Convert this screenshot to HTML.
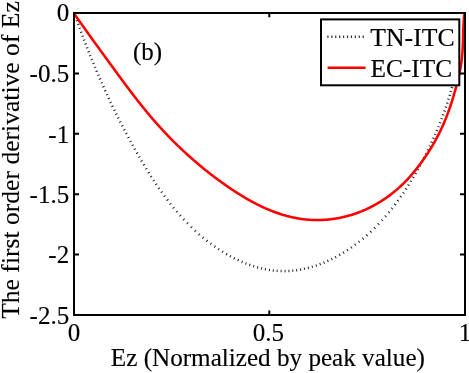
<!DOCTYPE html>
<html><head><meta charset="utf-8"><style>
html,body{margin:0;padding:0;background:#fff;width:469px;height:373px;overflow:hidden}
svg{display:block}
text{font-family:"Liberation Serif",serif;font-size:25px;fill:#000;stroke:#000;stroke-width:0.15px}
</style></head><body>
<svg width="469" height="373" viewBox="0 0 469 373">
<rect width="469" height="373" fill="#fff"/>
<path d="M74.07,12.34l0.33,0.94M75.41,16.16l0.33,0.94M76.82,20.13l0.34,0.94M78.18,23.92l0.34,0.94M79.61,27.86l0.34,0.94M81.06,31.80l0.35,0.94M82.52,35.71l0.35,0.94M84.00,39.62l0.36,0.93M85.49,43.51l0.36,0.93M86.99,47.39l0.36,0.93M88.51,51.26l0.37,0.93M90.04,55.12l0.37,0.93M91.66,59.12l0.38,0.93M93.23,62.96l0.38,0.92M94.87,66.94l0.39,0.92M96.48,70.75l0.39,0.92M98.16,74.71l0.39,0.92M99.80,78.50l0.40,0.92M101.52,82.43l0.40,0.91M103.26,86.36l0.41,0.91M105.02,90.27l0.41,0.91M106.80,94.17l0.42,0.91M108.61,98.07l0.42,0.91M110.43,101.95l0.43,0.90M112.27,105.82l0.43,0.90M114.22,109.84l0.44,0.90M116.11,113.69l0.44,0.90M118.02,117.54l0.45,0.89M120.03,121.53l0.45,0.89M121.99,125.36l0.46,0.89M124.05,129.33l0.46,0.89M126.06,133.14l0.47,0.88M128.17,137.09l0.47,0.88M130.31,141.04l0.48,0.88M132.39,144.83l0.49,0.87M134.59,148.76l0.49,0.87M136.81,152.68l0.50,0.87M139.06,156.60l0.50,0.87M141.33,160.51l0.51,0.86M143.65,164.40l0.51,0.86M145.99,168.28l0.52,0.85M148.47,172.28l0.53,0.85M150.89,176.12l0.54,0.84M153.44,180.07l0.55,0.84M155.95,183.85l0.56,0.83M158.70,187.89l0.57,0.82M161.40,191.74l0.58,0.81M164.26,195.69l0.59,0.80M167.17,199.60l0.61,0.80M170.15,203.45l0.62,0.78M173.30,207.39l0.63,0.77M176.52,211.26l0.65,0.76M179.94,215.19l0.67,0.75M183.43,219.05l0.68,0.73M187.13,222.95l0.70,0.72M191.06,226.88l0.72,0.70M194.95,230.59l0.74,0.68M198.83,234.08l0.75,0.66M202.66,237.36l0.77,0.64M206.59,240.54l0.79,0.62M210.48,243.52l0.80,0.59M214.45,246.39l0.82,0.57M218.22,248.96l0.84,0.55M222.21,251.52l0.85,0.53M226.11,253.87l0.87,0.50M229.92,256.02l0.88,0.48M233.78,258.06l0.89,0.45M237.68,259.97l0.91,0.42M241.64,261.75l0.92,0.39M245.47,263.34l0.93,0.36M249.34,264.80l0.94,0.33M253.24,266.12l0.95,0.30M257.17,267.30l0.96,0.27M261.12,268.33l0.97,0.23M264.93,269.18l0.98,0.19M268.92,269.91l0.99,0.15M272.77,270.45l0.99,0.11M276.62,270.84l1.00,0.07M280.65,271.07l1.00,0.03M284.53,271.13l1.00,-0.01M288.40,271.01l1.00,-0.06M292.28,270.73l0.99,-0.10M296.15,270.28l0.99,-0.14M300.18,269.65l0.98,-0.18M304.02,268.88l0.98,-0.22M307.85,267.97l0.97,-0.25M311.83,266.87l0.96,-0.29M315.77,265.63l0.95,-0.32M319.69,264.24l0.94,-0.35M323.56,262.72l0.92,-0.38M327.39,261.08l0.91,-0.41M331.33,259.24l0.90,-0.44M335.21,257.28l0.88,-0.47M339.19,255.12l0.87,-0.49M343.08,252.84l0.85,-0.52M347.05,250.36l0.84,-0.55M350.93,247.77l0.82,-0.57M354.87,244.97l0.80,-0.59M358.71,242.06l0.79,-0.62M362.61,238.92l0.77,-0.64M366.55,235.57l0.75,-0.66M370.38,232.09l0.73,-0.68M374.37,228.27l0.71,-0.70M378.14,224.45l0.69,-0.72M381.81,220.53l0.67,-0.74M385.27,216.65l0.65,-0.76M388.64,212.67l0.64,-0.77M391.71,208.88l0.62,-0.78M394.81,204.89l0.60,-0.80M397.63,201.12l0.59,-0.81M400.49,197.14l0.57,-0.82M403.17,193.26l0.56,-0.83M405.80,189.33l0.55,-0.84M408.26,185.51l0.53,-0.85M410.68,181.64l0.52,-0.85M413.03,177.75l0.51,-0.86M415.33,173.82l0.50,-0.87M417.58,169.87l0.49,-0.87M419.69,166.05l0.48,-0.88M421.84,162.06l0.47,-0.88M423.86,158.20l0.46,-0.89M425.83,154.34l0.45,-0.89M427.76,150.46l0.44,-0.90M429.64,146.57l0.43,-0.90M431.48,142.67l0.42,-0.91M433.27,138.76l0.41,-0.91M435.02,134.83l0.40,-0.92M436.72,130.89l0.39,-0.92M438.31,127.10l0.38,-0.92M439.92,123.14l0.37,-0.93M441.48,119.16l0.36,-0.93M442.94,115.32l0.35,-0.94M444.35,111.48l0.34,-0.94M445.72,107.62l0.33,-0.94M447.10,103.58l0.32,-0.95M448.38,99.69l0.31,-0.95M449.62,95.78l0.29,-0.96M450.76,92.02l0.28,-0.96M451.91,88.08l0.27,-0.96M453.01,84.13l0.26,-0.97M454.03,80.32l0.25,-0.97" fill="none" stroke="#222" stroke-width="2.5"/>
<path d="M73.80,13.10 L74.25,13.73 L74.69,14.37 L75.13,15.01 L75.57,15.64 L76.01,16.28 L76.46,16.91 L76.90,17.55 L77.34,18.18 L77.78,18.81 L78.23,19.44 L78.67,20.08 L79.11,20.71 L79.56,21.34 L80.00,21.97 L80.44,22.60 L80.89,23.23 L81.33,23.85 L81.78,24.48 L82.22,25.11 L82.66,25.74 L83.11,26.36 L83.55,26.99 L84.00,27.61 L84.44,28.24 L84.89,28.86 L85.33,29.49 L85.78,30.11 L86.22,30.74 L86.67,31.36 L87.11,31.98 L87.56,32.60 L88.01,33.23 L88.45,33.85 L88.90,34.47 L89.34,35.09 L89.79,35.71 L90.24,36.33 L90.68,36.95 L91.13,37.57 L91.58,38.19 L92.02,38.81 L92.47,39.43 L92.92,40.05 L93.36,40.67 L93.81,41.29 L94.26,41.91 L94.71,42.52 L95.15,43.14 L95.60,43.76 L96.05,44.38 L96.50,45.00 L96.95,45.61 L97.39,46.23 L97.84,46.85 L98.29,47.46 L98.74,48.08 L99.19,48.70 L99.64,49.32 L100.08,49.93 L100.53,50.55 L100.98,51.17 L101.43,51.78 L101.88,52.40 L102.33,53.02 L102.78,53.63 L103.23,54.25 L103.68,54.87 L104.13,55.48 L104.58,56.10 L105.02,56.72 L105.47,57.33 L105.92,57.95 L106.37,58.57 L106.82,59.18 L107.27,59.80 L107.72,60.42 L108.17,61.04 L108.62,61.65 L109.07,62.27 L109.52,62.89 L109.97,63.51 L110.42,64.12 L110.88,64.74 L111.33,65.36 L111.78,65.98 L112.23,66.60 L112.68,67.22 L113.13,67.84 L113.58,68.45 L114.03,69.07 L114.48,69.69 L114.94,70.31 L115.39,70.93 L115.84,71.55 L116.29,72.17 L116.74,72.79 L117.20,73.40 L117.65,74.02 L118.10,74.64 L118.56,75.26 L119.01,75.88 L119.46,76.50 L119.92,77.12 L120.37,77.73 L120.83,78.35 L121.28,78.97 L121.74,79.59 L122.20,80.20 L122.65,80.82 L123.11,81.44 L123.57,82.06 L124.02,82.67 L124.48,83.29 L124.94,83.90 L125.40,84.52 L125.86,85.14 L126.32,85.75 L126.78,86.37 L127.24,86.98 L127.70,87.60 L128.16,88.21 L128.62,88.82 L129.09,89.44 L129.55,90.05 L130.01,90.66 L130.48,91.28 L130.94,91.89 L131.41,92.50 L131.87,93.11 L132.34,93.72 L132.81,94.33 L133.27,94.94 L133.74,95.55 L134.21,96.16 L134.68,96.77 L135.15,97.37 L135.62,97.98 L136.09,98.59 L136.56,99.19 L137.04,99.80 L137.51,100.41 L137.98,101.01 L138.46,101.61 L138.93,102.22 L139.41,102.82 L139.89,103.42 L140.36,104.02 L140.84,104.62 L141.32,105.22 L141.80,105.82 L142.28,106.42 L142.76,107.02 L143.25,107.62 L143.73,108.21 L144.21,108.81 L144.70,109.41 L145.18,110.00 L145.67,110.59 L146.16,111.19 L146.65,111.78 L147.14,112.37 L147.63,112.96 L148.12,113.55 L148.61,114.14 L149.10,114.73 L149.59,115.31 L150.09,115.90 L150.59,116.49 L151.08,117.07 L151.58,117.65 L152.08,118.24 L152.58,118.82 L153.08,119.40 L153.58,119.98 L154.08,120.56 L154.59,121.14 L155.09,121.71 L155.60,122.29 L156.10,122.86 L156.61,123.44 L157.12,124.01 L157.63,124.58 L158.14,125.15 L158.65,125.73 L159.17,126.29 L159.68,126.86 L160.20,127.43 L160.71,128.00 L161.23,128.56 L161.75,129.13 L162.27,129.69 L162.79,130.25 L163.31,130.81 L163.83,131.37 L164.35,131.93 L164.88,132.49 L165.40,133.05 L165.93,133.60 L166.46,134.16 L166.98,134.71 L167.51,135.27 L168.04,135.82 L168.58,136.37 L169.11,136.92 L169.64,137.47 L170.18,138.02 L170.71,138.56 L171.25,139.11 L171.78,139.65 L172.32,140.20 L172.86,140.74 L173.40,141.28 L173.94,141.82 L174.49,142.36 L175.03,142.90 L175.58,143.44 L176.12,143.98 L176.67,144.51 L177.21,145.05 L177.76,145.58 L178.31,146.11 L178.86,146.65 L179.42,147.18 L179.97,147.70 L180.52,148.23 L181.08,148.76 L181.63,149.29 L182.19,149.81 L182.75,150.34 L183.31,150.86 L183.86,151.38 L184.43,151.90 L184.99,152.42 L185.55,152.94 L186.11,153.46 L186.68,153.97 L187.24,154.49 L187.81,155.00 L188.38,155.52 L188.95,156.03 L189.52,156.54 L190.09,157.05 L190.66,157.56 L191.23,158.06 L191.81,158.57 L192.38,159.08 L192.96,159.58 L193.53,160.08 L194.11,160.59 L194.69,161.09 L195.27,161.59 L195.85,162.08 L196.43,162.58 L197.02,163.08 L197.60,163.57 L198.18,164.07 L198.77,164.56 L199.36,165.05 L199.94,165.54 L200.53,166.03 L201.12,166.52 L201.71,167.01 L202.31,167.50 L202.90,167.98 L203.49,168.46 L204.09,168.95 L204.68,169.43 L205.28,169.91 L205.88,170.39 L206.48,170.87 L207.08,171.34 L207.68,171.82 L208.28,172.29 L208.88,172.77 L209.49,173.24 L210.09,173.71 L210.70,174.18 L211.30,174.65 L211.91,175.12 L212.52,175.58 L213.13,176.05 L213.74,176.51 L214.35,176.98 L214.96,177.44 L215.58,177.90 L216.19,178.36 L216.81,178.81 L217.42,179.27 L218.04,179.73 L218.66,180.18 L219.28,180.64 L219.90,181.09 L220.52,181.54 L221.15,181.99 L221.77,182.44 L222.39,182.88 L223.02,183.33 L223.65,183.77 L224.27,184.22 L224.90,184.66 L225.53,185.10 L226.16,185.54 L226.79,185.98 L227.43,186.42 L228.06,186.85 L228.69,187.29 L229.33,187.72 L229.97,188.15 L230.60,188.58 L231.24,189.01 L231.88,189.44 L232.52,189.87 L233.16,190.29 L233.81,190.72 L234.45,191.14 L235.09,191.56 L235.74,191.98 L236.39,192.39 L237.03,192.81 L237.68,193.22 L238.33,193.63 L238.98,194.04 L239.64,194.45 L240.29,194.86 L240.94,195.26 L241.60,195.66 L242.26,196.06 L242.92,196.46 L243.57,196.86 L244.23,197.25 L244.90,197.64 L245.56,198.03 L246.22,198.42 L246.89,198.81 L247.55,199.19 L248.22,199.57 L248.89,199.95 L249.56,200.32 L250.23,200.70 L250.90,201.07 L251.57,201.44 L252.25,201.80 L252.92,202.17 L253.60,202.53 L254.28,202.89 L254.96,203.24 L255.64,203.60 L256.32,203.95 L257.00,204.29 L257.69,204.64 L258.37,204.98 L259.06,205.32 L259.75,205.66 L260.44,205.99 L261.13,206.32 L261.82,206.65 L262.52,206.97 L263.21,207.29 L263.91,207.61 L264.61,207.93 L265.31,208.24 L266.01,208.55 L266.71,208.85 L267.41,209.15 L268.11,209.45 L268.82,209.75 L269.53,210.04 L270.24,210.33 L270.95,210.62 L271.66,210.90 L272.37,211.18 L273.08,211.45 L273.80,211.72 L274.52,211.99 L275.24,212.25 L275.96,212.51 L276.68,212.77 L277.40,213.02 L278.12,213.27 L278.85,213.52 L279.58,213.76 L280.31,214.00 L281.04,214.23 L281.77,214.46 L282.50,214.69 L283.23,214.91 L283.97,215.13 L284.70,215.34 L285.44,215.55 L286.18,215.75 L286.92,215.96 L287.66,216.15 L288.40,216.34 L289.15,216.53 L289.89,216.72 L290.64,216.89 L291.38,217.07 L292.13,217.24 L292.88,217.40 L293.63,217.56 L294.38,217.72 L295.13,217.87 L295.88,218.02 L296.63,218.16 L297.39,218.30 L298.14,218.43 L298.89,218.56 L299.65,218.68 L300.41,218.80 L301.16,218.91 L301.92,219.02 L302.68,219.12 L303.44,219.22 L304.20,219.31 L304.96,219.40 L305.72,219.48 L306.49,219.55 L307.25,219.62 L308.01,219.69 L308.77,219.75 L309.54,219.81 L310.30,219.85 L311.07,219.90 L311.83,219.94 L312.60,219.97 L313.36,220.00 L314.13,220.02 L314.90,220.04 L315.66,220.05 L316.43,220.06 L317.19,220.06 L317.96,220.06 L318.73,220.05 L319.50,220.04 L320.26,220.02 L321.03,220.00 L321.79,219.97 L322.56,219.93 L323.33,219.89 L324.09,219.85 L324.86,219.80 L325.62,219.75 L326.39,219.69 L327.15,219.62 L327.92,219.55 L328.68,219.48 L329.45,219.40 L330.21,219.31 L330.97,219.22 L331.73,219.13 L332.50,219.03 L333.26,218.92 L334.02,218.81 L334.78,218.70 L335.53,218.58 L336.29,218.45 L337.05,218.32 L337.81,218.19 L338.56,218.05 L339.32,217.90 L340.07,217.76 L340.82,217.60 L341.57,217.44 L342.32,217.28 L343.07,217.11 L343.82,216.94 L344.57,216.76 L345.32,216.58 L346.06,216.39 L346.80,216.20 L347.55,216.00 L348.29,215.80 L349.03,215.59 L349.76,215.38 L350.50,215.16 L351.24,214.94 L351.97,214.71 L352.70,214.48 L353.43,214.25 L354.16,214.01 L354.89,213.77 L355.62,213.52 L356.34,213.26 L357.06,213.00 L357.78,212.74 L358.50,212.47 L359.22,212.20 L359.93,211.93 L360.65,211.65 L361.36,211.36 L362.07,211.07 L362.77,210.78 L363.48,210.48 L364.18,210.17 L364.89,209.87 L365.59,209.55 L366.28,209.24 L366.98,208.92 L367.67,208.59 L368.36,208.26 L369.05,207.93 L369.74,207.59 L370.43,207.25 L371.11,206.90 L371.79,206.55 L372.47,206.20 L373.15,205.84 L373.82,205.48 L374.50,205.11 L375.17,204.74 L375.83,204.37 L376.50,203.99 L377.16,203.60 L377.82,203.22 L378.48,202.83 L379.14,202.43 L379.79,202.03 L380.45,201.63 L381.10,201.22 L381.74,200.81 L382.39,200.40 L383.03,199.98 L383.67,199.56 L384.31,199.13 L384.94,198.71 L385.57,198.27 L386.20,197.84 L386.83,197.39 L387.46,196.95 L388.08,196.50 L388.70,196.05 L389.32,195.60 L389.93,195.14 L390.54,194.68 L391.15,194.21 L391.76,193.74 L392.36,193.27 L392.96,192.79 L393.56,192.31 L394.16,191.83 L394.75,191.34 L395.34,190.85 L395.93,190.36 L396.51,189.87 L397.09,189.37 L397.67,188.86 L398.25,188.36 L398.82,187.85 L399.39,187.33 L399.96,186.82 L400.52,186.30 L401.08,185.78 L401.64,185.25 L402.20,184.72 L402.75,184.19 L403.30,183.65 L403.84,183.12 L404.39,182.58 L404.93,182.03 L405.46,181.48 L406.00,180.93 L406.53,180.38 L407.06,179.83 L407.58,179.27 L408.10,178.70 L408.62,178.14 L409.13,177.57 L409.65,177.00 L410.16,176.43 L410.66,175.86 L411.17,175.28 L411.67,174.70 L412.17,174.12 L412.66,173.53 L413.16,172.94 L413.65,172.35 L414.13,171.76 L414.62,171.17 L415.10,170.57 L415.58,169.97 L416.06,169.37 L416.53,168.77 L417.01,168.17 L417.48,167.56 L417.95,166.96 L418.41,166.35 L418.88,165.73 L419.34,165.12 L419.80,164.51 L420.25,163.89 L420.71,163.27 L421.16,162.66 L421.61,162.04 L422.06,161.41 L422.51,160.79 L422.96,160.17 L423.40,159.54 L423.84,158.91 L424.28,158.29 L424.72,157.66 L425.15,157.03 L425.59,156.39 L426.02,155.76 L426.44,155.12 L426.87,154.49 L427.29,153.85 L427.72,153.21 L428.14,152.57 L428.55,151.93 L428.97,151.28 L429.38,150.64 L429.79,149.99 L430.19,149.34 L430.60,148.69 L431.00,148.04 L431.40,147.39 L431.80,146.73 L432.19,146.08 L432.58,145.42 L432.97,144.76 L433.36,144.10 L433.74,143.44 L434.12,142.77 L434.50,142.11 L434.87,141.44 L435.24,140.78 L435.61,140.11 L435.98,139.43 L436.34,138.76 L436.70,138.09 L437.06,137.41 L437.42,136.74 L437.77,136.06 L438.12,135.38 L438.47,134.70 L438.81,134.01 L439.16,133.33 L439.49,132.65 L439.83,131.96 L440.17,131.27 L440.50,130.58 L440.83,129.89 L441.15,129.20 L441.48,128.51 L441.80,127.81 L442.12,127.12 L442.43,126.42 L442.75,125.72 L443.06,125.02 L443.36,124.32 L443.67,123.62 L443.97,122.92 L444.27,122.22 L444.57,121.51 L444.87,120.80 L445.16,120.10 L445.45,119.39 L445.74,118.68 L446.02,117.97 L446.31,117.26 L446.59,116.54 L446.87,115.83 L447.14,115.11 L447.41,114.40 L447.68,113.68 L447.95,112.96 L448.22,112.24 L448.48,111.52 L448.74,110.80 L449.00,110.08 L449.26,109.36 L449.51,108.63 L449.76,107.91 L450.01,107.18 L450.26,106.45 L450.50,105.73 L450.74,105.00 L450.98,104.27 L451.22,103.54 L451.46,102.81 L451.69,102.08 L451.92,101.34 L452.15,100.61 L452.38,99.88 L452.61,99.14 L452.83,98.41 L453.05,97.67 L453.28,96.94 L453.49,96.20 L453.71,95.47 L453.93,94.73 L454.14,93.99 L454.35,93.25 L454.56,92.51 L454.77,91.77 L454.98,91.04 L455.19,90.30 L455.39,89.56 L455.59,88.82 L455.80,88.08 L456.00,87.33 L456.20,86.59 L456.39,85.85 L456.59,85.11 L456.79,84.37 L456.98,83.63 L457.17,82.89 L457.36,82.14 L457.55,81.40 L457.74,80.66 L457.92,79.92 L458.10,79.17 L458.28,78.43 L458.46,77.69 L458.64,76.94 L458.81,76.20 L458.98,75.45 L459.14,74.71 L459.31,73.96 L459.47,73.21 L459.63,72.47 L459.78,71.72 L459.93,70.97 L460.08,70.22 L460.22,69.47 L460.36,68.72 L460.49,67.97 L460.62,67.22 L460.75,66.47 L460.87,65.72 L460.99,64.96 L461.11,64.21 L461.22,63.46 L461.32,62.70 L461.42,61.95 L461.52,61.19 L461.62,60.43 L461.71,59.68 L461.80,58.92 L461.88,58.16 L461.96,57.40 L462.04,56.64 L462.11,55.88 L462.18,55.12 L462.25,54.36 L462.31,53.60 L462.38,52.84 L462.43,52.08 L462.49,51.31 L462.54,50.55 L462.59,49.79 L462.64,49.02 L462.68,48.26 L462.73,47.49 L462.77,46.73 L462.81,45.96 L462.84,45.20 L462.87,44.43 L462.90,43.66 L462.93,42.90 L462.96,42.13 L462.99,41.36 L463.01,40.59 L463.04,39.83 L463.06,39.06 L463.08,38.29 L463.10,37.52 L463.12,36.75 L463.14,35.98 L463.16,35.21 L463.18,34.45 L463.20,33.68 L463.22,32.91 L463.24,32.14 L463.27,31.37 L463.29,30.60 L463.31,29.83 L463.34,29.06 L463.36,28.30 L463.39,27.53 L463.42,26.76 L463.45,25.99 L463.49,25.22 L463.52,24.46 L463.56,23.69 L463.60,22.92 L463.65,22.16 L463.69,21.39 L463.74,20.63 L463.80,19.86 L463.86,19.10 L463.92,18.33 L463.98,17.57 L464.05,16.80 L464.12,16.04 L464.20,15.28 L464.28,14.52 L464.37,13.76 L464.46,13.00" fill="none" stroke="#f00" stroke-width="2.55" stroke-linejoin="round"/>
<rect x="74" y="13" width="391" height="302" fill="none" stroke="#000" stroke-width="2"/>
<g stroke="#000" stroke-width="2">
<path d="M269.3,315 V310.5 M269.3,13 V17.3"/>
<path d="M74,73.4 H79 M74,133.8 H79 M74,194.2 H79 M74,254.6 H79"/>
<path d="M465,73.4 H460 M465,133.8 H460 M465,194.2 H460 M465,254.6 H460"/>
</g>
<g style="will-change:transform">
<g text-anchor="end">
<text x="69.2" y="21.0">0</text>
<text x="69.2" y="82.1">-0.5</text>
<text x="69.2" y="142.5">-1</text>
<text x="69.2" y="202.9">-1.5</text>
<text x="69.2" y="263.3">-2</text>
<text x="69.2" y="323.7">-2.5</text>
</g>
<g text-anchor="middle">
<text x="74" y="340.7">0</text>
<text x="268.4" y="340.8">0.5</text>
<text x="465" y="340.7">1</text>
</g>
<text x="267.9" y="366" text-anchor="middle" style="font-size:25.15px">Ez (Normalized by peak value)</text>
<text transform="translate(19,160) rotate(-90)" text-anchor="middle" style="font-size:25.6px">The first order derivative of Ez</text>
<text x="133" y="60.2">(b)</text>
<rect x="321" y="19.4" width="138.3" height="65.9" fill="#fff" stroke="#000" stroke-width="2"/>
<path d="M327.30,36.7h1.2M331.22,36.7h1.2M335.14,36.7h1.2M339.06,36.7h1.2M342.98,36.7h1.2M346.90,36.7h1.2M350.82,36.7h1.2M354.74,36.7h1.2M358.66,36.7h1.2M362.58,36.7h1.2" stroke="#333" stroke-width="2.4"/>
<path d="M327.6,67.8 H365.6" stroke="#f00" stroke-width="2.6"/>
<text x="370.3" y="45.6" style="font-size:25.3px" textLength="84.3" lengthAdjust="spacingAndGlyphs">TN-ITC</text>
<text x="370.5" y="76.8" style="font-size:25.3px">EC-ITC</text>
</g>
</svg>
</body></html>
